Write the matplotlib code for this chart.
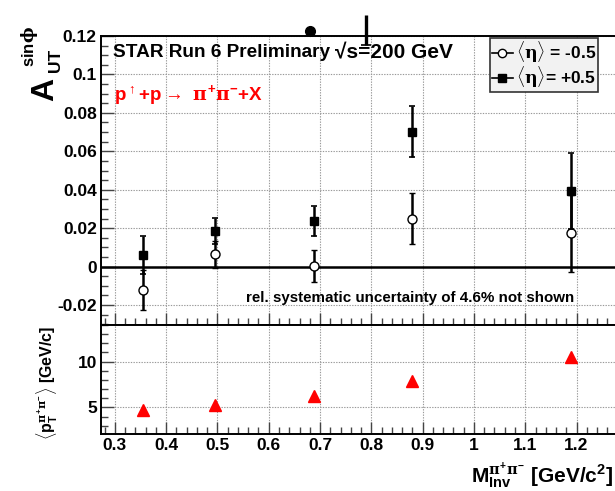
import numpy as np
import matplotlib
matplotlib.use("Agg")
import matplotlib.pyplot as plt
from matplotlib.lines import Line2D
from matplotlib.ticker import MultipleLocator, FixedLocator

plt.rcParams["font.family"] = ["Liberation Sans", "DejaVu Sans"]
plt.rcParams["font.weight"] = "bold"
plt.rcParams["mathtext.fontset"] = "custom"
plt.rcParams["mathtext.rm"] = "Liberation Sans:bold"
plt.rcParams["mathtext.bf"] = "Liberation Sans:bold"
plt.rcParams["mathtext.it"] = "DejaVu Serif"
plt.rcParams["mathtext.sf"] = "Liberation Sans:bold"

# invariant mass bins
m_inv = [0.354, 0.496, 0.689, 0.880, 1.190]

# A_UT^sin(phi) for <eta> = -0.5 and +0.5
a_neg = [-0.0122, 0.0063, 0.0002, 0.0250, 0.0174]
a_neg_err = [0.0102, 0.0070, 0.0083, 0.0135, 0.0200]
a_pos = [0.0061, 0.0186, 0.0237, 0.0703, 0.0395]
a_pos_err = [0.0100, 0.0068, 0.0078, 0.0132, 0.0198]

# mean pair pT per bin
pt_mean = [4.67, 5.26, 6.20, 7.94, 10.54]

# stray marker and error bar drawn above the frame
stray_dot = (0.680, 0.1226)
stray_bar_x = 0.789
stray_bar_lo, stray_bar_hi = 0.1153, 0.1310

xlo, xhi = 0.273, 1.30

fig = plt.figure(figsize=(6.15, 4.91), dpi=100)
W, H = 615, 491


def frac(x0, y0, x1, y1):
    return [x0 / W, 1 - y1 / H, (x1 - x0) / W, (y1 - y0) / H]


right_px = 101 + (xhi - xlo) * 513
ax = fig.add_axes(frac(101, 36, right_px, 325))
ax2 = fig.add_axes(frac(101, 325, right_px, 434))

for a in (ax, ax2):
    a.set_xlim(xlo, xhi)
    a.xaxis.set_major_locator(FixedLocator([0.3, 0.4, 0.5, 0.6, 0.7, 0.8, 0.9, 1.0, 1.1, 1.2]))
    a.xaxis.set_minor_locator(MultipleLocator(0.02))
    a.tick_params(which="both", direction="in", top=False, right=False, width=1.0, color="#444444")
    a.tick_params(which="major", length=9)
    a.tick_params(which="minor", length=5)
    a.grid(True, which="major", linestyle=(0, (1.2, 1.2)), color="#999999", linewidth=0.8)
    a.spines["right"].set_visible(False)
    for s in ("left", "bottom", "top"):
        a.spines[s].set_linewidth(1.4)

# upper panel
ax.set_ylim(-0.0304, 0.12)
ax.yaxis.set_minor_locator(MultipleLocator(0.005))
ax.set_yticks([-0.02, 0, 0.02, 0.04, 0.06, 0.08, 0.1, 0.12])
ax.set_yticklabels(["-0.02", "0", "0.02", "0.04", "0.06", "0.08", "0.1", "0.12"],
                   fontsize=12.5, fontweight="bold")
ax.tick_params(axis="x", labelbottom=False)
ax.tick_params(axis="y", pad=3)
ax.axhline(0, color="black", linewidth=1.8, zorder=2)

ax.errorbar(m_inv, a_neg, yerr=a_neg_err, fmt="o", ms=6.5, mfc="white", mec="black",
            mew=1.0, ecolor="black", elinewidth=1.8, capsize=2.2, capthick=1.2, zorder=4)
ax.errorbar(m_inv, a_pos, yerr=a_pos_err, fmt="s", ms=6.2, mfc="black", mec="black",
            ecolor="black", elinewidth=1.8, capsize=2.2, capthick=1.2, zorder=5)

# stray marker and bar above the frame
ax.plot(*stray_dot, "o", color="black", ms=7, clip_on=False)
ax.vlines(stray_bar_x, stray_bar_lo, stray_bar_hi, color="black", linewidth=2.4, clip_on=False)
ax.plot(stray_bar_x, stray_bar_lo, "_", color="black", ms=7, mew=1.2, clip_on=False)

ax.text(0.296, 0.1112, "STAR Run 6 Preliminary", fontsize=13.7,
        fontweight="bold", va="center", ha="left")
ax.text(0.729, 0.1112, "\u221as=200 GeV", fontsize=15.0,
        fontweight="bold", va="center", ha="left")
ax.text(0.299, 0.0893, r"p$^{\uparrow}$+p$\rightarrow$ $\pi^{+}\pi^{-}$+X", fontsize=13.5,
        fontweight="bold", color="red", va="center", ha="left")
ax.text(0.556, -0.0163, "rel. systematic uncertainty of 4.6% not shown", fontsize=10.9,
        fontweight="bold", va="center", ha="left")

handles = [
    Line2D([], [], color="black", marker="o", mfc="white", mec="black", ms=6, lw=1.2),
    Line2D([], [], color="black", marker="s", mfc="black", ms=6, lw=1.2),
]
leg = ax.legend(handles, [r"$\langle\eta\rangle$ = -0.5", r"$\langle\eta\rangle$= +0.5"],
                loc="upper left", bbox_to_anchor=((490 - 101) / (right_px - 101), 0.993),
                fontsize=12.5, frameon=True, fancybox=False, handlelength=1.2, handletextpad=0.2,
                borderpad=0.1, labelspacing=0.0, borderaxespad=0)
leg.get_frame().set_facecolor("#f2f2f2")
leg.get_frame().set_edgecolor("#333333")
leg.get_frame().set_linewidth(1.2)
leg.get_frame().set_alpha(1)
for t in leg.get_texts():
    t.set_fontweight("bold")

# lower panel
ax2.set_ylim(2.1, 14.0)
ax2.set_yticks([5, 10])
ax2.set_yticklabels(["5", "10"], fontsize=12.5, fontweight="bold")
ax2.yaxis.set_minor_locator(MultipleLocator(1))
ax2.set_xticklabels(["0.3", "0.4", "0.5", "0.6", "0.7", "0.8", "0.9", "1", "1.1", "1.2"],
                    fontsize=12.5, fontweight="bold")
ax2.tick_params(axis="x", which="major", pad=3)
ax2.tick_params(axis="y", pad=3)
ax2.plot(m_inv, pt_mean, "^", color="red", ms=8, linestyle="none", zorder=4)

# axis titles: A_UT^sin(phi) built from three pieces, stacked like ROOT does
fig.text(45 / W, 1 - 89 / H, "A", rotation=90, fontsize=23, fontweight="heavy",
         ha="center", va="center")
fig.text(55.5 / W, 1 - 60 / H, "UT", rotation=90, fontsize=12.5, fontweight="bold",
         ha="center", va="center")
fig.text(30 / W, 1 - 47 / H, r"sin$\phi$", rotation=90, fontsize=12, fontweight="bold",
         ha="center", va="center")
fig.text(47 / W, 1 - 383 / H, r"$\langle$p$_{\mathrm{T}}^{\pi^{+}\pi^{-}}\rangle$ [GeV/c]",
         rotation=90, fontsize=11.5, fontweight="bold", ha="center", va="center")
fig.text(613 / W, 1 - 476 / H, r"M$_{\mathrm{Inv}}^{\pi^{+}\pi^{-}}$ [GeV/c$^{2}$]",
         fontsize=15, fontweight="bold", ha="right", va="center")

fig.savefig("out.png", dpi=100)
